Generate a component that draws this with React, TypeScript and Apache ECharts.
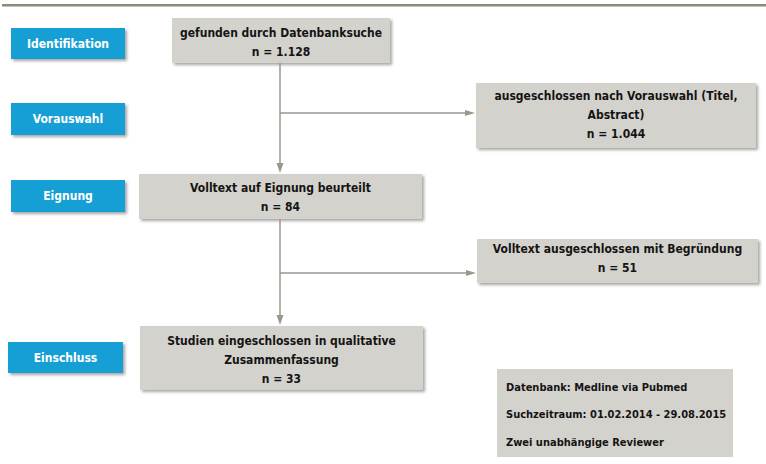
import React, { useEffect, useRef } from "react";
import * as echarts from "echarts";

// Stages (left blue labels)
const stages = ["Identifikation", "Vorauswahl", "Eignung", "Einschluss"];
// Main flow boxes
const flowLabels = [
  "gefunden durch Datenbanksuche",
  "Volltext auf Eignung beurteilt",
  "Studien eingeschlossen in qualitative\nZusammenfassung",
];
const flowCounts = [1128, 84, 33];
// Exclusion boxes
const excludedLabels = [
  "ausgeschlossen nach Vorauswahl (Titel,\nAbstract)",
  "Volltext ausgeschlossen mit Begründung",
];
const excludedCounts = [1044, 51];
// Notes
const notes = [
  "Datenbank: Medline via Pubmed",
  "Suchzeitraum: 01.02.2014 - 29.08.2015",
  "Zwei unabhängige Reviewer",
];

const fmt = (n: number) => String(n).replace(/\B(?=(\d{3})+(?!\d))/g, ".");

const FONT = "'DejaVu Sans Condensed', 'Liberation Sans Narrow', 'Noto Sans', sans-serif";
const BLUE = "#179fd4";
const GRAY = "#d4d2cc";
const LINE = "#9a978c";

export default function App() {
  const ref = useRef<HTMLDivElement>(null);
  useEffect(() => {
    if (!ref.current) return;
    const chart = echarts.init(ref.current, undefined, { renderer: "svg" });

    const shadow = {
      shadowBlur: 3,
      shadowOffsetX: 2,
      shadowOffsetY: 2,
      shadowColor: "rgba(0,0,0,0.35)",
    };

    const stageBoxes = [
      { x: 11, y: 28, w: 114, h: 31 },
      { x: 11, y: 103, w: 114, h: 32 },
      { x: 11, y: 180, w: 114, h: 32 },
      { x: 8, y: 342, w: 115, h: 31 },
    ];
    const flowBoxes = [
      { x: 172, y: 18, w: 218, h: 45, dy: 2 },
      { x: 139, y: 174, w: 283, h: 45, dy: 1 },
      { x: 140, y: 326, w: 283, h: 64, dy: 1.5 },
    ];
    const exclBoxes = [
      { x: 476, y: 83, w: 280, h: 65, dy: -1 },
      { x: 477, y: 239, w: 281, h: 44, dy: -3 },
    ];
    const noteBox = { x: 497, y: 369, w: 236, h: 88 };

    const elements: any[] = [];

    // top rule
    elements.push({
      type: "rect",
      shape: { x: 2, y: 4, width: 764, height: 2.5 },
      style: { fill: "#8e8a7a" },
    });

    stages.forEach((s, i) => {
      const b = stageBoxes[i];
      elements.push({
        type: "rect",
        shape: { x: b.x, y: b.y, width: b.w, height: b.h },
        style: { fill: BLUE, ...shadow },
      });
      elements.push({
        type: "text",
        style: {
          text: s,
          x: b.x + b.w / 2,
          y: b.y + b.h / 2,
          align: "center",
          verticalAlign: "middle",
          textAlign: "center",
          textVerticalAlign: "middle",
          fill: "#ffffff",
          font: `bold 12px ${FONT}`,
        },
      });
    });

    const boxWithText = (b: any, text: string, size = 12) => {
      elements.push({
        type: "rect",
        shape: { x: b.x, y: b.y, width: b.w, height: b.h },
        style: { fill: GRAY, ...shadow },
      });
      elements.push({
        type: "text",
        style: {
          text,
          x: b.x + b.w / 2,
          y: b.y + b.h / 2 + b.dy,
          align: "center",
          verticalAlign: "middle",
          textAlign: "center",
          textVerticalAlign: "middle",
          fill: "#141414",
          font: `bold ${size}px ${FONT}`,
          lineHeight: 19,
        },
      });
    };

    flowLabels.forEach((l, i) => boxWithText(flowBoxes[i], `${l}\nn = ${fmt(flowCounts[i])}`));
    excludedLabels.forEach((l, i) => boxWithText(exclBoxes[i], `${l}\nn = ${fmt(excludedCounts[i])}`));

    // notes box
    elements.push({
      type: "rect",
      shape: { x: noteBox.x, y: noteBox.y, width: noteBox.w, height: noteBox.h },
      style: { fill: GRAY },
    });
    notes.forEach((n, i) => {
      elements.push({
        type: "text",
        style: {
          text: n,
          x: 506,
          y: 387 + i * 27.5,
          align: "left",
          verticalAlign: "middle",
          textAlign: "left",
          textVerticalAlign: "middle",
          fill: "#141414",
          font: `bold 11px ${FONT}`,
        },
      });
    });

    // connectors
    const line = (x1: number, y1: number, x2: number, y2: number) =>
      elements.push({
        type: "line",
        shape: { x1, y1, x2, y2 },
        style: { stroke: LINE, lineWidth: 1.5 },
      });
    const arrowDown = (x: number, tip: number) =>
      elements.push({
        type: "polygon",
        shape: { points: [[x - 3.5, tip - 10], [x + 3.5, tip - 10], [x, tip]] },
        style: { fill: LINE },
      });
    const arrowRight = (y: number, tip: number) =>
      elements.push({
        type: "polygon",
        shape: { points: [[tip - 10, y - 3], [tip - 10, y + 3], [tip, y]] },
        style: { fill: LINE },
      });

    const cx = 280;
    line(cx, 63, cx, 165);
    arrowDown(cx, 173);
    line(cx, 113, 467, 113);
    arrowRight(113, 475);
    line(cx, 219, cx, 318);
    arrowDown(cx, 325);
    line(cx, 273, 468, 273);
    arrowRight(273, 476);

    chart.setOption({
      animation: false,
      backgroundColor: "#ffffff",
      graphic: { elements },
    });
    return () => chart.dispose();
  }, []);

  return (
    <div
      ref={ref}
      style={{ position: "fixed", left: 0, top: 0, width: 766, height: 464 }}
    />
  );
}
